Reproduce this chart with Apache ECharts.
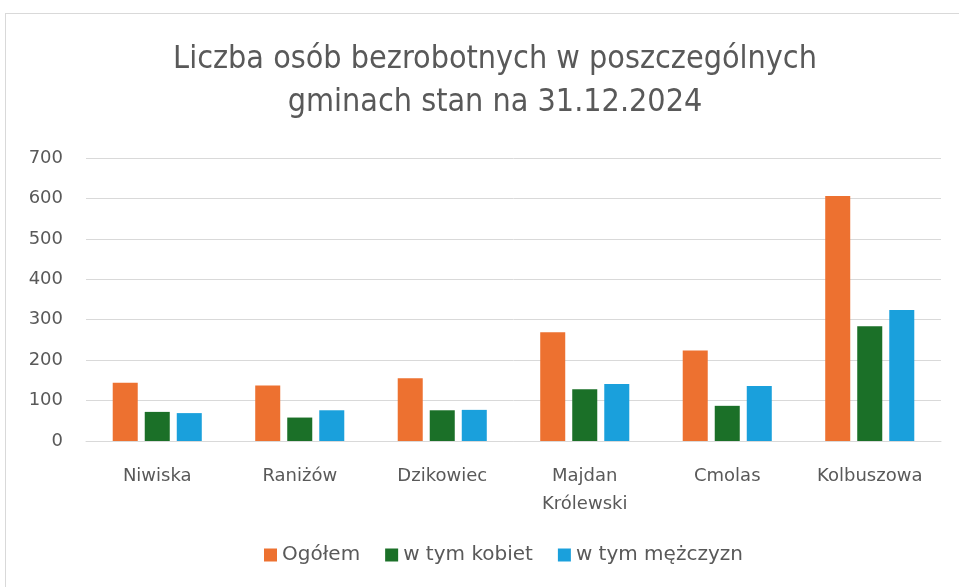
<!DOCTYPE html>
<html>
<head>
<meta charset="utf-8">
<script src="https://cdn.jsdelivr.net/npm/echarts@6/dist/echarts.min.js"></script>
<style>
  html, body { margin: 0; padding: 0; background: #fff; }
  #frame { position: absolute; left: 5px; top: 13px; width: 970px; height: 590px; border: 1px solid #d9d9d9; box-sizing: border-box; }
  #main { position: absolute; left: 0; top: 0; width: 959px; height: 587px; }
</style>
</head>
<body>
<div id="frame"></div>
<div id="main"></div>
<script>
// gminy
var categories = ['Niwiska', 'Raniżów', 'Dzikowiec', 'Majdan\nKrólewski', 'Cmolas', 'Kolbuszowa']
var ogolem = [144, 137, 155, 269, 224, 606]
var kobiety = [72, 58, 76, 128, 87, 284]
var mezczyzni = [69, 76, 77, 141, 136, 324]

var myChart = echarts.init(document.getElementById('main'))

var option = {
  backgroundColor: 'transparent',
  title: {
    text: 'Liczba osób bezrobotnych w poszczególnych\ngminach stan na 31.12.2024',
    left: 490,
    textAlign: 'center',
    top: 33,
    textStyle: {
      fontFamily: "'DejaVu Sans Condensed', 'Liberation Sans', sans-serif",
      fontWeight: 'normal',
      fontSize: 32,
      lineHeight: 43,
      color: '#595959'
    }
  },
  legend: {
    top: 545,
    left: 264,
    padding: 0,
    itemWidth: 13,
    itemHeight: 13,
    itemGap: 25,
    icon: 'rect',
    textStyle: {
      fontFamily: 'DejaVu Sans',
      fontSize: 20,
      color: '#595959'
    },
    data: ['Ogółem', 'w tym kobiet', 'w tym mężczyzn']
  },
  grid: {
    left: 86,
    right: 18,
    top: 158,
    bottom: 146
  },
  xAxis: {
    type: 'category',
    data: categories,
    axisTick: { show: false },
    axisLine: { lineStyle: { color: '#d9d9d9' } },
    axisLabel: {
      margin: 21,
      fontFamily: 'DejaVu Sans',
      fontSize: 18,
      lineHeight: 28,
      color: '#595959'
    }
  },
  yAxis: {
    type: 'value',
    min: 0,
    max: 700,
    interval: 100,
    axisLine: { show: false },
    axisTick: { show: false },
    axisLabel: {
      margin: 23,
      fontFamily: 'DejaVu Sans',
      fontSize: 18,
      color: '#595959'
    },
    splitLine: { lineStyle: { color: '#d9d9d9' } }
  },
  series: [{
    name: 'Ogółem',
    type: 'bar',
    data: ogolem,
    barGap: '28%',
    barCategoryGap: '37.5%',
    itemStyle: { color: '#ed7130' }
  }, {
    name: 'w tym kobiet',
    type: 'bar',
    data: kobiety,
    itemStyle: { color: '#1b7028' }
  }, {
    name: 'w tym mężczyzn',
    type: 'bar',
    data: mezczyzni,
    itemStyle: { color: '#1aa0dc' }
  }]
}

myChart.setOption(option)
</script>
</body>
</html>
